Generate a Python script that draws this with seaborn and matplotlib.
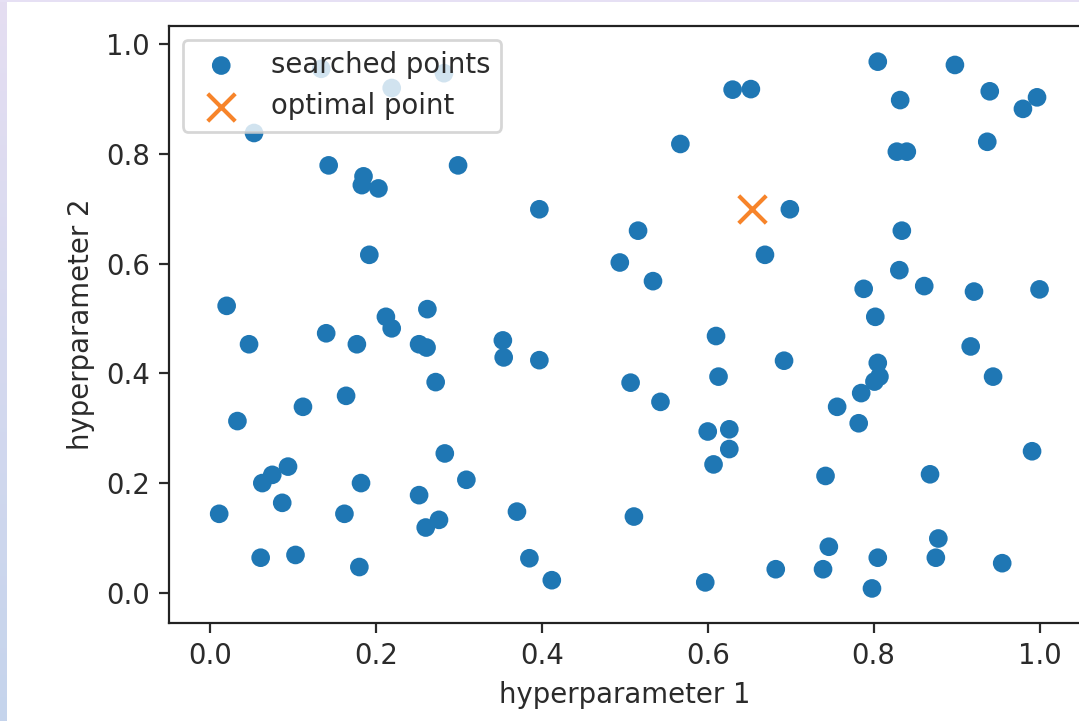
import numpy as np
import matplotlib
matplotlib.use("Agg")
import matplotlib.pyplot as plt
from matplotlib.patches import Rectangle
from matplotlib.colors import LinearSegmentedColormap
import seaborn as sns

# Randomly searched hyperparameter combinations
hp1 = [0.011, 0.020, 0.047, 0.033, 0.140, 0.177, 0.212, 0.219, 0.262, 0.252,
       0.261, 0.272, 0.164, 0.112, 0.353, 0.354, 0.397, 0.283, 0.309, 0.063,
       0.075, 0.094, 0.087, 0.182, 0.162, 0.061, 0.103, 0.180, 0.252, 0.260,
       0.276, 0.370, 0.385, 0.412, 0.511, 0.597, 0.682, 0.739, 0.746, 0.798,
       0.805, 0.875, 0.878, 0.955, 0.742, 0.868, 0.991, 0.607, 0.600, 0.626,
       0.626, 0.613, 0.610, 0.507, 0.543, 0.494, 0.534, 0.669, 0.692, 0.756,
       0.782, 0.785, 0.801, 0.807, 0.805, 0.802, 0.788, 0.831, 0.861, 0.921,
       1.000, 0.917, 0.944, 0.192, 0.805, 0.898, 0.630, 0.652, 0.832, 0.940,
       0.980, 0.997, 0.567, 0.937, 0.828, 0.840, 0.299, 0.397, 0.516, 0.699,
       0.834, 0.134, 0.219, 0.282, 0.053, 0.143, 0.185, 0.183, 0.203]
hp2 = [0.144, 0.523, 0.453, 0.313, 0.473, 0.453, 0.503, 0.482, 0.517, 0.453,
       0.447, 0.384, 0.359, 0.339, 0.460, 0.429, 0.424, 0.254, 0.206, 0.200,
       0.215, 0.230, 0.164, 0.200, 0.144, 0.064, 0.069, 0.047, 0.178, 0.119,
       0.133, 0.148, 0.063, 0.023, 0.139, 0.019, 0.043, 0.043, 0.084, 0.008,
       0.064, 0.064, 0.099, 0.054, 0.213, 0.216, 0.258, 0.234, 0.294, 0.298,
       0.262, 0.394, 0.468, 0.383, 0.348, 0.602, 0.568, 0.616, 0.423, 0.339,
       0.309, 0.364, 0.385, 0.394, 0.419, 0.503, 0.554, 0.588, 0.559, 0.549,
       0.553, 0.449, 0.394, 0.616, 0.968, 0.962, 0.917, 0.918, 0.898, 0.914,
       0.882, 0.903, 0.818, 0.822, 0.804, 0.804, 0.779, 0.699, 0.660, 0.699,
       0.660, 0.955, 0.920, 0.947, 0.838, 0.779, 0.759, 0.743, 0.737]

# Best combination found
opt_hp1 = [0.653]
opt_hp2 = [0.700]

x_ticks = [0.0, 0.2, 0.4, 0.6, 0.8, 1.0]
y_ticks = [0.0, 0.2, 0.4, 0.6, 0.8, 1.0]

TEXT = "#2b2b2b"
plt.rcParams.update({
    "text.color": TEXT,
    "axes.labelcolor": TEXT,
    "xtick.color": TEXT,
    "ytick.color": TEXT,
    "axes.edgecolor": "#222222",
})

W, H, DPI = 1079, 721, 198
fig = plt.figure(figsize=(W / DPI, H / DPI), dpi=DPI)
fig.patch.set_facecolor("white")

ax = fig.add_axes([169 / W, 98 / H, 912 / W, 597 / H])

sns.scatterplot(x=hp1, y=hp2, ax=ax, s=46, color="#1f77b4",
                linewidth=0, edgecolor="none", label="searched points")
sns.scatterplot(x=opt_hp1, y=opt_hp2, ax=ax, marker="x", s=100,
                color="#f7842a", linewidth=1.5, label="optimal point")

ax.set_xlim(-0.0495, 1.05)
ax.set_ylim(-0.055, 1.033)
ax.set_xticks(x_ticks)
ax.set_yticks(y_ticks)
ax.set_xticklabels([f"{t:.1f}" for t in x_ticks])
ax.set_yticklabels([f"{t:.1f}" for t in y_ticks])
ax.set_xlabel("hyperparameter 1")
ax.set_ylabel("hyperparameter 2")
ax.legend(loc="upper left")

# Window frame strips along the left and top edges
strip = fig.add_axes([0, 0, 7 / W, 1])
cmap = LinearSegmentedColormap.from_list("frame", ["#e5def2", "#c5d4ec"])
strip.imshow(np.linspace(0, 1, 256).reshape(-1, 1), aspect="auto", cmap=cmap)
strip.set_axis_off()
fig.add_artist(Rectangle((0, 1 - 2 / H), 1, 2 / H, transform=fig.transFigure,
                         facecolor="#e6e0f4", edgecolor="none"))

fig.savefig("out.png", dpi=DPI)
